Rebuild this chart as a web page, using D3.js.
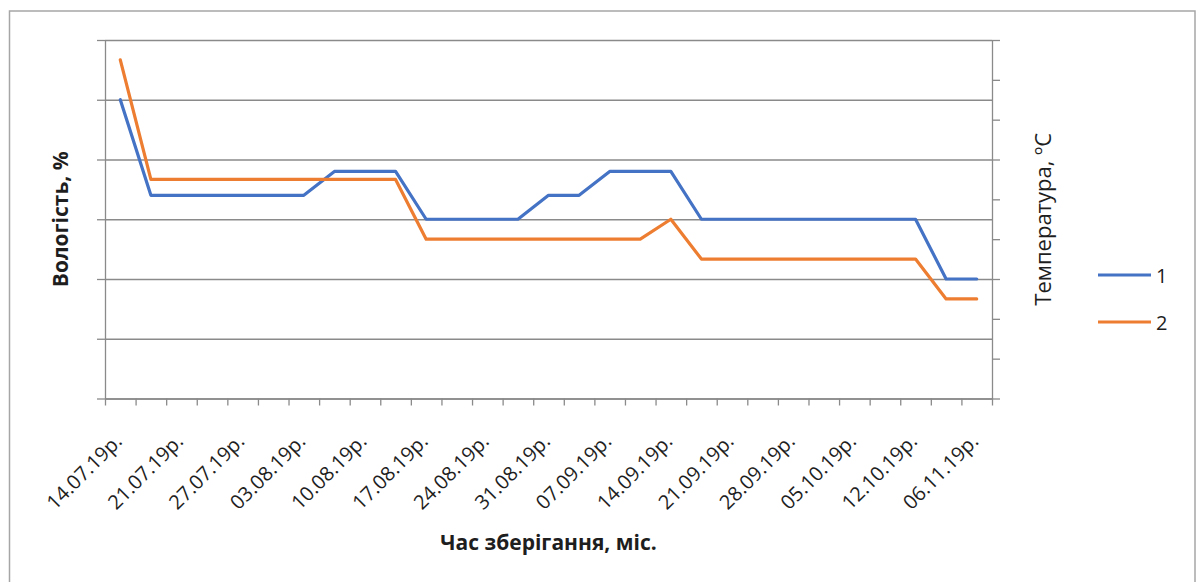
<!DOCTYPE html>
<html>
<head>
<meta charset="utf-8">
<script src="https://cdn.jsdelivr.net/npm/d3@7"></script>
<style>
  html, body { margin: 0; padding: 0; background: #ffffff; }
  svg { display: block; }
  text { font-family: "Open Sans", "Noto Sans", "DejaVu Sans", sans-serif; fill: #1e1e1e; }
</style>
</head>
<body>
<svg id="chart" width="1200" height="582"></svg>
<script>
// Storage dates shown on the category axis (every second reading is labelled)
const tickLabels = [
  "14.07.19р.", "21.07.19р.", "27.07.19р.", "03.08.19р.", "10.08.19р.",
  "17.08.19р.", "24.08.19р.", "31.08.19р.", "07.09.19р.", "14.09.19р.",
  "21.09.19р.", "28.09.19р.", "05.10.19р.", "12.10.19р.", "06.11.19р."
];
const labelEvery = 2;

// Series 1 — moisture, % (left axis)
const moisture = [
  25, 17, 17, 17, 17, 17, 17, 19, 19, 19, 15, 15, 15, 15, 17,
  17, 19, 19, 19, 15, 15, 15, 15, 15, 15, 15, 15, 10, 10
];
// Series 2 — temperature, °C (right axis)
const temperature = [
  17, 11, 11, 11, 11, 11, 11, 11, 11, 11, 8, 8, 8, 8, 8,
  8, 8, 8, 9, 7, 7, 7, 7, 7, 7, 7, 7, 5, 5
];

const seriesNames = ["1", "2"];
const seriesColors = ["#4472c4", "#ed7d31"];

const leftTicks = [0, 5, 10, 15, 20, 25, 30];
const rightTicks = [0, 2, 4, 6, 8, 10, 12, 14, 16, 18];

const svg = d3.select("#chart");
const plot = { left: 105, right: 992, top: 40, bottom: 398.5 };
const axisGrey = "#8a8a8a";

// outer chart frame
svg.append("rect")
  .attr("x", 9.5).attr("y", 11).attr("width", 1185.5).attr("height", 620)
  .attr("fill", "#ffffff").attr("stroke", "#a6a6a6").attr("stroke-width", 1.5);

const idx = moisture.map((_, i) => i);
const x = d3.scaleBand().domain(idx).range([plot.left, plot.right]);
const xEdge = d3.scaleLinear().domain([0, idx.length]).range([plot.left, plot.right]);
const yL = d3.scaleLinear().domain([0, 30]).range([plot.bottom, plot.top]);
const yR = d3.scaleLinear().domain([0, 18]).range([plot.bottom, plot.top]);

// horizontal gridlines from the left axis
svg.append("g")
  .attr("transform", `translate(${plot.left},0)`)
  .call(d3.axisLeft(yL).tickValues(leftTicks).tickSize(-(plot.right - plot.left)).tickFormat(""))
  .call(g => g.select(".domain").remove())
  .call(g => g.selectAll(".tick line").attr("stroke", axisGrey).attr("stroke-width", 1.3));

// left axis with outward ticks
svg.append("g")
  .attr("transform", `translate(${plot.left},0)`)
  .call(d3.axisLeft(yL).tickValues(leftTicks).tickSize(8).tickSizeOuter(0).tickFormat(""))
  .call(g => g.selectAll(".domain, .tick line").attr("stroke", axisGrey).attr("stroke-width", 1.3));

// right axis with outward ticks
svg.append("g")
  .attr("transform", `translate(${plot.right},0)`)
  .call(d3.axisRight(yR).tickValues(rightTicks).tickSize(8).tickSizeOuter(0).tickFormat(""))
  .call(g => g.selectAll(".domain, .tick line").attr("stroke", axisGrey).attr("stroke-width", 1.3));

// category axis: tick marks between readings
svg.append("g")
  .attr("transform", `translate(0,${plot.bottom})`)
  .call(d3.axisBottom(xEdge).tickValues(d3.range(idx.length + 1)).tickSize(7).tickSizeOuter(0).tickFormat(""))
  .call(g => g.selectAll(".domain, .tick line").attr("stroke", axisGrey).attr("stroke-width", 1.3));

// rotated date labels
svg.append("g")
  .selectAll("text")
  .data(tickLabels)
  .join("text")
  .attr("text-anchor", "end")
  .attr("font-size", 20)
  .attr("transform", (d, i) => {
    const cx = x(i * labelEvery) + x.bandwidth() / 2;
    return `translate(${cx + 3},${plot.bottom + 44}) rotate(-45)`;
  })
  .text(d => d);

// series lines
const lineL = d3.line().x((d, i) => x(i) + x.bandwidth() / 2).y(d => yL(d));
const lineR = d3.line().x((d, i) => x(i) + x.bandwidth() / 2).y(d => yR(d));

svg.append("path").datum(moisture)
  .attr("d", lineL).attr("fill", "none")
  .attr("stroke", seriesColors[0]).attr("stroke-width", 3.2)
  .attr("stroke-linejoin", "round").attr("stroke-linecap", "round");

svg.append("path").datum(temperature)
  .attr("d", lineR).attr("fill", "none")
  .attr("stroke", seriesColors[1]).attr("stroke-width", 3.2)
  .attr("stroke-linejoin", "round").attr("stroke-linecap", "round");

// axis titles
svg.append("text")
  .attr("transform", `translate(60,${(plot.top + plot.bottom) / 2}) rotate(-90)`)
  .attr("text-anchor", "middle").attr("dominant-baseline", "central")
  .attr("font-size", 21).attr("font-weight", "bold")
  .text("Вологість, %");

svg.append("text")
  .attr("transform", `translate(1042,${(plot.top + plot.bottom) / 2}) rotate(-90)`)
  .attr("text-anchor", "middle").attr("dominant-baseline", "central")
  .attr("font-size", 22)
  .text("Температура, ºC");

svg.append("text")
  .attr("x", (plot.left + plot.right) / 2).attr("y", 542)
  .attr("text-anchor", "middle").attr("dominant-baseline", "central")
  .attr("font-size", 21).attr("font-weight", "bold")
  .text("Час зберігання, міс.");

// legend
const legend = svg.append("g")
  .selectAll("g")
  .data(seriesNames)
  .join("g")
  .attr("transform", (d, i) => `translate(1098,${275 + i * 47})`);

legend.append("line")
  .attr("x1", 0).attr("x2", 53).attr("y1", 0).attr("y2", 0)
  .attr("stroke", (d, i) => seriesColors[i]).attr("stroke-width", 3.2);

legend.append("text")
  .attr("x", 58).attr("y", 0)
  .attr("dominant-baseline", "central")
  .attr("font-size", 20)
  .text(d => d);
</script>
</body>
</html>
